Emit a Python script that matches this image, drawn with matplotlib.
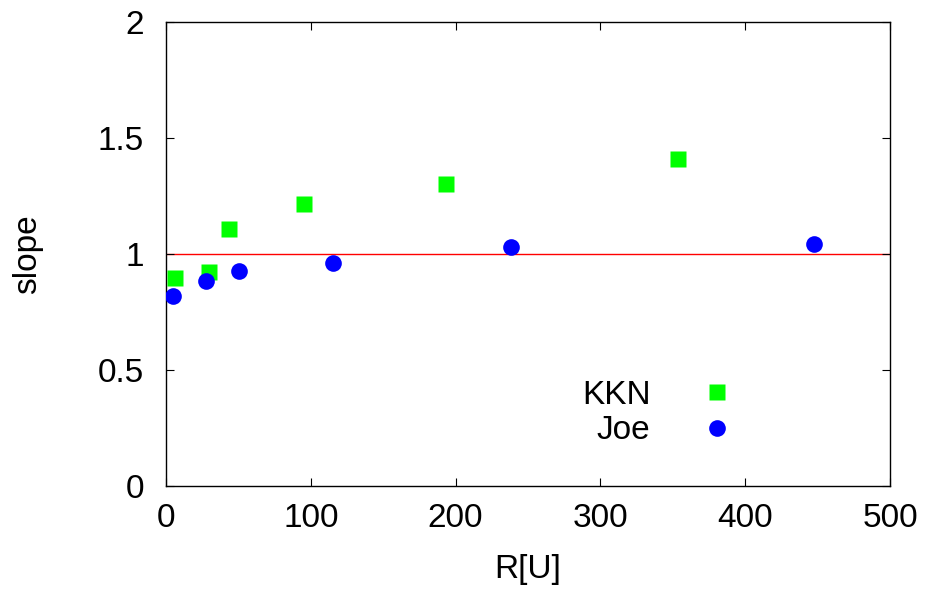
import matplotlib
matplotlib.use("Agg")
import matplotlib.pyplot as plt

plt.rcParams['font.family'] = ['Liberation Sans', 'DejaVu Sans']

kkn_x = [6.2, 29.7, 43.6, 95.4, 193.6, 353.4]
kkn_y = [0.897, 0.922, 1.108, 1.216, 1.302, 1.409]
joe_x = [4.8, 27.7, 50.5, 115.5, 238.6, 447.4]
joe_y = [0.819, 0.884, 0.927, 0.961, 1.030, 1.043]
ref_y = 1.0

xticks = [0, 100, 200, 300, 400, 500]
yticks = [0, 0.5, 1, 1.5, 2]
ytick_labels = ['0', '0.5', '1', '1.5', '2']

fig = plt.figure(figsize=(9.25, 5.9), dpi=100)
ax = fig.add_axes([166/925, (590-486)/590, (890-166)/925, (486-22)/590])

ax.axhline(ref_y, color='#ff0000', lw=1.0, zorder=1)
ax.plot(kkn_x, kkn_y, ls='none', marker='s', ms=11.8, color='#00ff00', mec='none', label='KKN', zorder=3)
ax.plot(joe_x, joe_y, ls='none', marker='o', ms=12, color='#0000ff', mec='none', label='Joe', zorder=3)

ax.set_xlim(0, 500)
ax.set_ylim(0, 2)
ax.set_xticks(xticks)
ax.set_yticks(yticks)
ax.set_yticklabels(ytick_labels)
ax.tick_params(direction='in', length=6, width=0.8, top=True, right=True, labelsize=24)
ax.tick_params(axis='x', pad=12)
ax.tick_params(axis='y', pad=16)
for s in ax.spines.values():
    s.set_linewidth(1.0)

ax.set_xlabel('R[U]', fontsize=24)
ax.set_ylabel('slope', fontsize=24)
ax.xaxis.set_label_coords(0.5, -0.146)
ax.yaxis.set_label_coords(-0.170, 0.5)

leg = ax.legend(loc='center', bbox_to_anchor=(0.691, 0.157), frameon=False, markerfirst=False,
                fontsize=24, handletextpad=1.0, labelspacing=0.13, handlelength=2.0, borderpad=0)

fig.savefig('out.png', dpi=100)
